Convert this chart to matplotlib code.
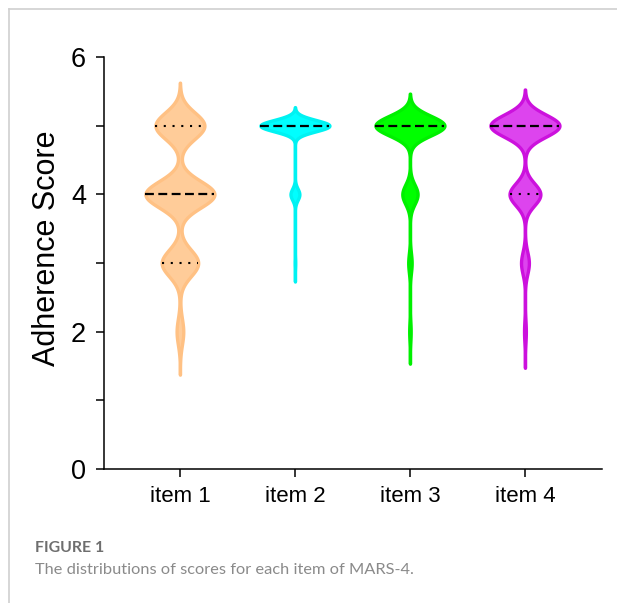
import numpy as np
import matplotlib
matplotlib.use("Agg")
import matplotlib.pyplot as plt
from matplotlib.lines import Line2D

# ---- data: respondents per score level ----
items = ["item 1", "item 2", "item 3", "item 4"]
levels = [1, 2, 3, 4, 5]
counts_item1 = [0, 15, 82, 155, 110]
counts_item2 = [0, 0, 3, 41, 318]
counts_item3 = [0, 6, 14, 62, 280]
counts_item4 = [0, 6, 26, 102, 228]
all_counts = [counts_item1, counts_item2, counts_item3, counts_item4]

fill_colors = ["#FFCC99", "#00FFFF", "#00FF00", "#DD44EE"]
edge_colors = ["#FFC184", "#00F2F2", "#00F000", "#CC11DD"]

ytick_major = [0, 2, 4, 6]
ytick_minor = [1, 3, 5]

plt.rcParams['font.family'] = ['Liberation Sans', 'DejaVu Sans']

fig = plt.figure(figsize=(6.17, 6.03), dpi=100)
ax = fig.add_axes([0.1686, 0.2222, 0.8071, 0.6833])

half_max = 0.30
bw_factor = 0.75
cut = 3.25

for i, (cnts, fc, ec) in enumerate(zip(all_counts, fill_colors, edge_colors)):
    pos = i + 1
    data = np.repeat(levels, cnts).astype(float)
    n = len(data)
    bw = bw_factor * data.std() * n ** (-1 / 5)
    grid = np.linspace(data.min() - cut * bw, data.max() + cut * bw, 600)
    dens = np.zeros_like(grid)
    for lv, c in zip(levels, cnts):
        dens += c * np.exp(-0.5 * ((grid - lv) / bw) ** 2)
    w = dens / dens.max() * half_max
    ax.fill_betweenx(grid, pos - w, pos + w, facecolor=fc, edgecolor=ec,
                     linewidth=2.4, joinstyle='round', zorder=2)
    q1, med, q3 = np.percentile(data, [25, 50, 75])

    def width_at(y):
        d = sum(c * np.exp(-0.5 * ((y - lv) / bw) ** 2) for lv, c in zip(levels, cnts))
        return d / dens.max() * half_max

    for q in (q1, q3):
        if q != med:
            hw = width_at(q)
            ax.plot([pos - hw, pos + hw], [q, q], color="black", lw=1.5,
                    linestyle=(0, (1, 3.2)), zorder=3)
    hw = width_at(med)
    ax.plot([pos - hw, pos + hw], [med, med], color="black", lw=1.6,
            linestyle=(0, (4, 2)), zorder=3)

ax.set_xlim(0.34, 4.67)
ax.set_ylim(0, 6)
ax.set_xticks(range(1, len(items) + 1))
ax.set_xticklabels(items, fontsize=16)
ax.set_yticks(ytick_major)
ax.set_yticks(ytick_minor, minor=True)
ax.tick_params(axis='y', which='both', length=6, width=1.1, labelsize=19.5, pad=7)
ax.tick_params(axis='x', length=6, width=1.1, pad=6)
ax.set_ylabel("Adherence Score", fontsize=22)
ax.yaxis.set_label_coords(-0.084, 0.535)
for s in ("top", "right"):
    ax.spines[s].set_visible(False)
for s in ("left", "bottom"):
    ax.spines[s].set_linewidth(1.1)

# caption
fig.text(35 / 617, 1 - 548 / 603, "FIGURE 1", fontsize=11.4, fontweight='bold',
         color="#6E6E6E", family=["Lato", "DejaVu Sans"], va='center', ha='left')
fig.text(35 / 617, 1 - 570 / 603, "The distributions of scores for each item of MARS-4.",
         fontsize=11.8, color="#8A8A8A", family=["Lato", "DejaVu Sans"], va='center', ha='left')

# frame lines
fig.add_artist(Line2D([9 / 617, 1], [1 - 9 / 603, 1 - 9 / 603], transform=fig.transFigure,
                      color="#D0D0D0", lw=1.2))
fig.add_artist(Line2D([9 / 617, 9 / 617], [0, 1 - 9 / 603], transform=fig.transFigure,
                      color="#D0D0D0", lw=1.2))

fig.savefig("out.png", dpi=100)
